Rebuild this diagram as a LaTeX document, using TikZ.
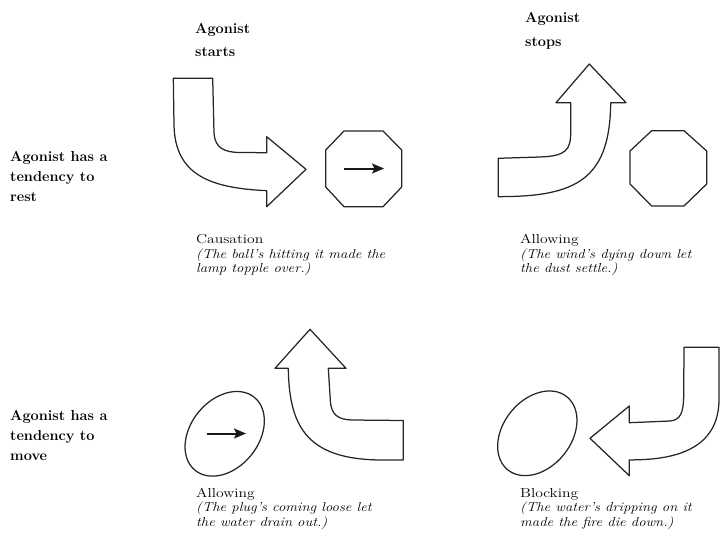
\documentclass[tikz,border=0pt]{standalone}
\usepackage{graphicx}
\usetikzlibrary{arrows.meta}
\begin{document}
\begin{tikzpicture}[x=1pt,y=-1pt,
  outl/.style={draw=black!85, line width=1.25pt, line join=round},
  push/.style={-{Stealth[length=12pt,width=10pt,inset=2.5pt]}, line width=2pt, draw=black!90},
  lbl/.style={anchor=base west, inner sep=0pt, font=\fontsize{14.5}{19.5}\selectfont\bfseries, text=black},
  capr/.style={anchor=base west, inner sep=0pt, font=\fontsize{13}{14.5}\selectfont, text=black},
  capi/.style={anchor=base west, inner sep=0pt, font=\fontsize{13}{14.5}\selectfont\itshape, text=black}]
\useasboundingbox (0,0) rectangle (720,547);

% column headers
\node[lbl] (h1a) at (195,33) {Agonist};
\node[lbl] (h1b) at (195,56) {starts};
\node[lbl] (h2a) at (525,22) {Agonist};
\node[lbl] (h2b) at (525,46) {stops};

% row labels
\node[lbl] (r1a) at (10,161.5) {Agonist has a};
\node[lbl] (r1b) at (10,181.5) {tendency to};
\node[lbl] (r1c) at (10,201.5) {rest};
\node[lbl] (r2a) at (10,420) {Agonist has a};
\node[lbl] (r2b) at (10,440) {tendency to};
\node[lbl] (r2c) at (10,460) {move};

% ---- top left: causation
\draw[outl] (173.3,78.3) -- (212.7,78.3) -- (214,133)
  .. controls (215,148) and (224,152.3) .. (240,152.5) -- (266.7,152.7)
  -- (266.7,136.7) -- (306,169.3) -- (266.7,206.7) -- (266.7,190.7)
  .. controls (210,188) and (175,175) .. (174,125) -- cycle;
\draw[outl] (344,131) -- (383,131) -- (401.7,150) -- (401.7,187)
  -- (383,206.7) -- (344,206.7) -- (325.7,187) -- (325.7,150) -- cycle;
\coordinate (o1s) at (344.3,168.5);
\coordinate (o1e) at (384,168.5);
\draw[push] (o1s) -- (o1e);

% ---- top right: allowing
\draw[outl] (498.3,158.3) -- (540,157)
  .. controls (566,156) and (570.7,150) .. (570.7,132) -- (570.7,102.7)
  -- (556,102.7) -- (589.3,64) -- (626,102.7) -- (610.7,102.7)
  .. controls (610,175) and (580,195) .. (510,196.5) -- (498.3,196.7) -- cycle;
\draw[outl] (651.7,130.7) -- (684,130.7) -- (706.7,151) -- (706.7,184)
  -- (684,206) -- (651.7,206) -- (630,184) -- (630,151) -- cycle;

% ---- bottom left: allowing
\draw[outl, rotate around={51:(224.7,433.8)}] (224.7,433.8) ellipse [x radius=47pt, y radius=34pt];
\coordinate (e1s) at (206.7,433.5);
\coordinate (e1e) at (246,433.5);
\draw[push] (e1s) -- (e1e);
\draw[outl] (288.3,368.3) -- (275,368.3) -- (310,329.3) -- (346,368.3) -- (328.3,368.3)
  -- (330.3,400) .. controls (331,415) and (338,419.5) .. (352,420) -- (403.3,420.5)
  -- (403.3,460) -- (380,460) .. controls (310,459) and (289,430) .. (288.3,368.3) -- cycle;

% ---- bottom right: blocking
\draw[outl, rotate around={51:(537.3,433.3)}] (537.3,433.3) ellipse [x radius=47pt, y radius=34pt];
\draw[outl] (629.3,422.7) -- (670,421)
  .. controls (681,420) and (683.5,412) .. (683.7,395) -- (684,347.3) -- (719,347.3)
  -- (719,400) .. controls (718.5,440) and (690,458) .. (640,459.7) -- (629.3,460)
  -- (629.3,475.7) -- (590,438.3) -- (629.3,406) -- cycle;

% captions
\node[capr] (c1a) at (196,243.4) {\scalebox{1.2}[1]{Causation}};
\node[capi] (c1b) at (196,258) {\scalebox{1.13}[1]{(The ball's hitting it made the}};
\node[capi] (c1c) at (196,272) {\scalebox{1.13}[1]{lamp topple over.)}};
\node[capr] (c2a) at (520,243.4) {\scalebox{1.2}[1]{Allowing}};
\node[capi] (c2b) at (520,258) {\scalebox{1.13}[1]{(The wind's dying down let}};
\node[capi] (c2c) at (520,272) {\scalebox{1.13}[1]{the dust settle.)}};
\node[capr] (c3a) at (196,497) {\scalebox{1.2}[1]{Allowing}};
\node[capi] (c3b) at (196,511.5) {\scalebox{1.13}[1]{(The plug's coming loose let}};
\node[capi] (c3c) at (196,526) {\scalebox{1.13}[1]{the water drain out.)}};
\node[capr] (c4a) at (520,497) {\scalebox{1.2}[1]{Blocking}};
\node[capi] (c4b) at (520,511.5) {\scalebox{1.13}[1]{(The water's dripping on it}};
\node[capi] (c4c) at (520,526) {\scalebox{1.13}[1]{made the fire die down.)}};
\end{tikzpicture}
\end{document}
